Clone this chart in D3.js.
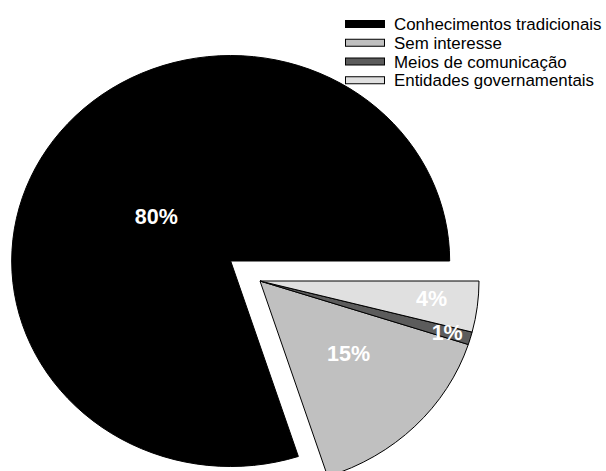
<!DOCTYPE html>
<html>
<head>
<meta charset="utf-8">
<script src="https://cdn.jsdelivr.net/npm/d3@7"></script>
<style>
  body { margin: 0; background: #fff; }
  svg { display: block; }
</style>
</head>
<body>
<div class="chart"></div>
<script>
// data
var categories = ['Conhecimentos tradicionais', 'Sem interesse', 'Meios de comunicação', 'Entidades governamentais'];
var values = [80, 15, 1, 4];
var labels = ['80%', '15%', '1%', '4%'];
var colors = ['#000000', '#c0c0c0', '#5c5c5c', '#e0e0e0'];

// layout
var width = 606, height = 471;
var cx = 260, cy = 281;          // centre of the pie
var radius = 205.5;              // vertical radius
var stretchX = 219 / 205.5;      // pie is a bit wider than tall
var explode = [34, 0, 0, 0];     // first slice pulled out
var labelPos = [0.42, 0.54, 0.89, 0.79];
var labelNudge = [[0, 6], [5, -6], [0, 0], [0, -3]];

var svg = d3.select('.chart')
  .append('svg')
    .attr('width', width)
    .attr('height', height);

// counterclockwise from 3 o'clock
var pie = d3.pie()
    .sort(null)
    .startAngle(Math.PI / 2)
    .endAngle(Math.PI / 2 - 2 * Math.PI);

var arcs = pie(values);

var arc = d3.arc()
    .innerRadius(0)
    .outerRadius(radius);

function offset(d, dist) {
  var a = (d.startAngle + d.endAngle) / 2;
  return [Math.sin(a) * dist, -Math.cos(a) * dist];
}

var pieG = svg.append('g')
    .attr('transform', 'translate(' + cx + ',' + cy + ') scale(' + stretchX + ',1)');

pieG.selectAll('path.slice')
  .data(arcs)
  .enter().append('path')
    .attr('class', 'slice')
    .attr('d', arc)
    .attr('transform', function(d, i) {
      var o = offset(d, explode[i]);
      return 'translate(' + o[0] + ',' + o[1] + ')';
    })
    .attr('fill', function(d, i) { return colors[i]; })
    .attr('stroke', '#000')
    .attr('stroke-width', 1)
    .attr('vector-effect', 'non-scaling-stroke');

// slice labels (not stretched)
svg.selectAll('text.pct')
  .data(arcs)
  .enter().append('text')
    .attr('class', 'pct')
    .attr('x', function(d, i) {
      var o = offset(d, explode[i]);
      var p = offset(d, radius * labelPos[i]);
      return cx + (o[0] + p[0]) * stretchX + labelNudge[i][0];
    })
    .attr('y', function(d, i) {
      var o = offset(d, explode[i]);
      var p = offset(d, radius * labelPos[i]);
      return cy + o[1] + p[1] + labelNudge[i][1];
    })
    .attr('dy', '0.36em')
    .attr('text-anchor', 'middle')
    .attr('font-family', 'Arial, "Liberation Sans", sans-serif')
    .attr('font-size', '21.5px')
    .attr('font-weight', 'bold')
    .attr('fill', '#fff')
    .text(function(d, i) { return labels[i]; });

// legend
var legend = svg.append('g')
    .attr('transform', 'translate(345,24)');

var rowH = 18.75;

legend.selectAll('rect')
  .data(categories)
  .enter().append('rect')
    .attr('x', 0.5)
    .attr('y', function(d, i) { return i * rowH - 3.5; })
    .attr('width', 39)
    .attr('height', 7)
    .attr('fill', function(d, i) { return colors[i]; })
    .attr('stroke', '#000')
    .attr('stroke-width', 1);

legend.selectAll('text')
  .data(categories)
  .enter().append('text')
    .attr('x', 49)
    .attr('y', function(d, i) { return i * rowH; })
    .attr('dy', '0.36em')
    .attr('font-family', 'Arial, "Liberation Sans", sans-serif')
    .attr('font-size', '16.9px')
    .attr('fill', '#000')
    .text(function(d) { return d; });
</script>
</body>
</html>
